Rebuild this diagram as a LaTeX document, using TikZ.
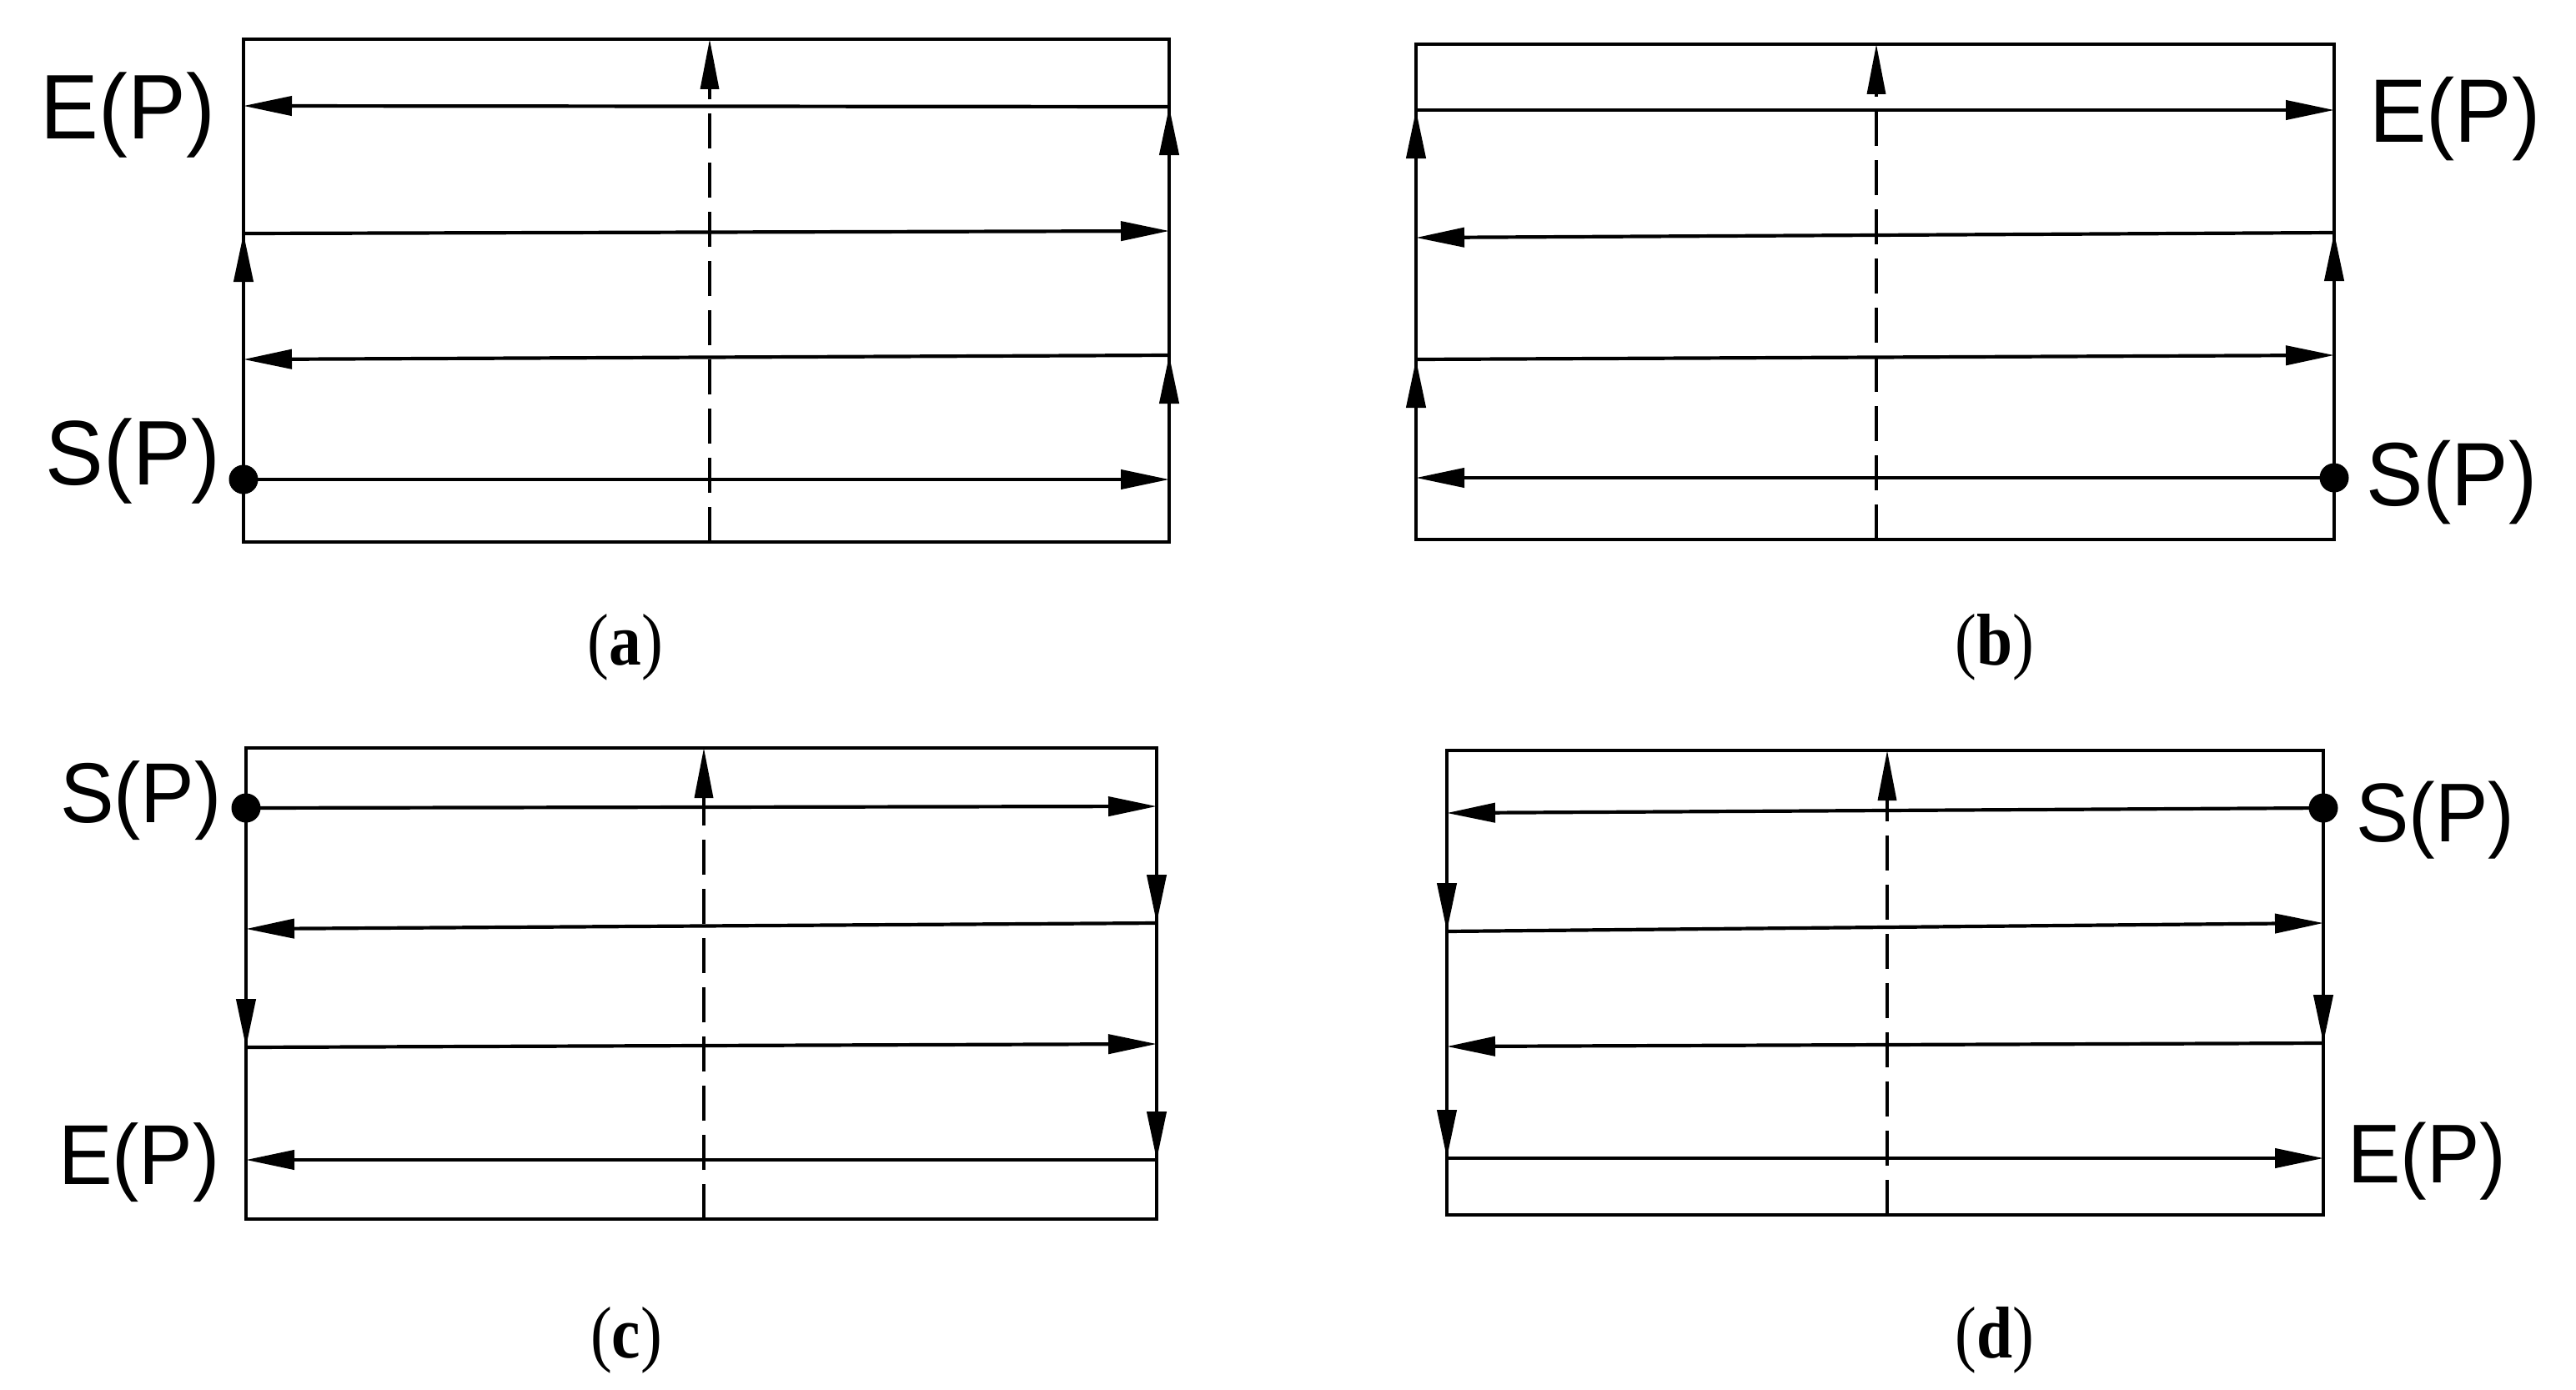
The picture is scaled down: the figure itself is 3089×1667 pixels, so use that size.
\documentclass[tikz,border=0pt]{standalone}
\usepackage{fontspec}
\usetikzlibrary{arrows.meta}
\newfontfamily\labfont[FakeStretch=0.95]{Liberation Sans}
\newfontfamily\capfont[FakeStretch=0.88]{Liberation Serif}
\tikzset{
  frame/.style={line width=4.2pt},
  route/.style={line width=4.2pt, -{Triangle[length=58pt,width=23pt]}},
  axisline/.style={line width=3.5pt, dash pattern=on 42pt off 17pt, -{Triangle[length=60pt,width=22pt]}},
  dotnode/.style={circle, fill=black, inner sep=0pt, minimum size=35pt},
  lab/.style={inner sep=0pt, font=\labfont\fontsize{#1}{#1}\selectfont},
  capt/.style={inner sep=0pt, anchor=base, font=\capfont\fontsize{88}{88}\selectfont}
}
\begin{document}
\begin{tikzpicture}[x=1pt,y=-1pt]
\useasboundingbox (0,0) rectangle (3089,1667);
\fill[white] (0,0) rectangle (3089,1667);

% ---------------- panel (a)
\coordinate (aTL) at (292,47);   \coordinate (aBR) at (1402,650);
\coordinate (a1L) at (292,127);  \coordinate (a1R) at (1402,128);
\coordinate (a2L) at (292,280);  \coordinate (a2R) at (1402,277);
\coordinate (a3L) at (292,431);  \coordinate (a3R) at (1402,426);
\coordinate (a4L) at (292,575);  \coordinate (a4R) at (1402,575);
\coordinate (aDb) at (851,650);  \coordinate (aDt) at (851,47);
\draw[frame] (aTL) rectangle (aBR);
\draw[axisline] (aDb) -- (aDt);
\draw[route] (a4L) -- (a4R);
\draw[route] (a4R) -- (a3R);
\draw[route] (a3R) -- (a3L);
\draw[route] (a3L) -- (a2L);
\draw[route] (a2L) -- (a2R);
\draw[route] (a2R) -- (a1R);
\draw[route] (a1R) -- (a1L);
\node[dotnode] (aS) at (a4L) {};
\node[lab=110, anchor=base east] (aEl) at (258,167) {E(P)};
\node[lab=110, anchor=base east] (aSl) at (264,581) {S(P)};
\node[capt] (aCap) at (750,797) {(\textbf{a})};

% ---------------- panel (b)
\coordinate (bTL) at (1698,53);  \coordinate (bBR) at (2799,647);
\coordinate (b1L) at (1698,132); \coordinate (b1R) at (2799,132);
\coordinate (b2L) at (1698,285); \coordinate (b2R) at (2799,279);
\coordinate (b3L) at (1698,431); \coordinate (b3R) at (2799,426);
\coordinate (b4L) at (1698,573); \coordinate (b4R) at (2799,573);
\coordinate (bDb) at (2250,647); \coordinate (bDt) at (2250,53);
\draw[frame] (bTL) rectangle (bBR);
\draw[axisline] (bDb) -- (bDt);
\draw[route] (b4R) -- (b4L);
\draw[route] (b4L) -- (b3L);
\draw[route] (b3L) -- (b3R);
\draw[route] (b3R) -- (b2R);
\draw[route] (b2R) -- (b2L);
\draw[route] (b2L) -- (b1L);
\draw[route] (b1L) -- (b1R);
\node[dotnode] (bS) at (b4R) {};
\node[lab=108, anchor=base west] (bEl) at (2841,171) {E(P)};
\node[lab=108, anchor=base west] (bSl) at (2837,606) {S(P)};
\node[capt] (bCap) at (2392,797) {(\textbf{b})};

% ---------------- panel (c)
\coordinate (cTL) at (295,897);  \coordinate (cBR) at (1387,1462);
\coordinate (c1L) at (295,969);  \coordinate (c1R) at (1387,967);
\coordinate (c2L) at (295,1114); \coordinate (c2R) at (1387,1107);
\coordinate (c3L) at (295,1256); \coordinate (c3R) at (1387,1252);
\coordinate (c4L) at (295,1391); \coordinate (c4R) at (1387,1391);
\coordinate (cDb) at (844,1462); \coordinate (cDt) at (844,897);
\draw[frame] (cTL) rectangle (cBR);
\draw[axisline] (cDb) -- (cDt);
\draw[route] (c1L) -- (c1R);
\draw[route] (c1R) -- (c2R);
\draw[route] (c2R) -- (c2L);
\draw[route] (c2L) -- (c3L);
\draw[route] (c3L) -- (c3R);
\draw[route] (c3R) -- (c4R);
\draw[route] (c4R) -- (c4L);
\node[dotnode] (cS) at (c1L) {};
\node[lab=102, anchor=base east] (cSl) at (266,986) {S(P)};
\node[lab=102, anchor=base east] (cEl) at (264,1420) {E(P)};
\node[capt] (cCap) at (751,1628) {(\textbf{c})};

% ---------------- panel (d)
\coordinate (dTL) at (1735,900);  \coordinate (dBR) at (2786,1457);
\coordinate (d1L) at (1735,975);  \coordinate (d1R) at (2786,969);
\coordinate (d2L) at (1735,1117); \coordinate (d2R) at (2786,1107);
\coordinate (d3L) at (1735,1255); \coordinate (d3R) at (2786,1251);
\coordinate (d4L) at (1735,1389); \coordinate (d4R) at (2786,1389);
\coordinate (dDb) at (2263,1457); \coordinate (dDt) at (2263,900);
\draw[frame] (dTL) rectangle (dBR);
\draw[axisline] (dDb) -- (dDt);
\draw[route] (d1R) -- (d1L);
\draw[route] (d1L) -- (d2L);
\draw[route] (d2L) -- (d2R);
\draw[route] (d2R) -- (d3R);
\draw[route] (d3R) -- (d3L);
\draw[route] (d3L) -- (d4L);
\draw[route] (d4L) -- (d4R);
\node[dotnode] (dS) at (d1R) {};
\node[lab=100, anchor=base west] (dSl) at (2825,1009) {S(P)};
\node[lab=100, anchor=base west] (dEl) at (2815,1418) {E(P)};
\node[capt] (dCap) at (2392,1628) {(\textbf{d})};
\end{tikzpicture}
\end{document}
